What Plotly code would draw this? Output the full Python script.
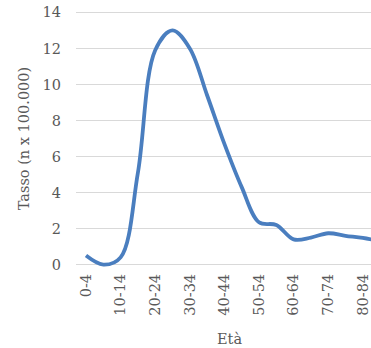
import plotly.graph_objects as go

# Incidence rate per 100,000 by age group
age_groups = ["0-4", "5-9", "10-14", "15-19", "20-24", "25-29", "30-34", "35-39",
              "40-44", "45-49", "50-54", "55-59", "60-64", "65-69", "70-74", "75-79",
              "80-84", "85+"]
rates = [0.5, 0.0, 0.4, 5.1, 11.9, 13.0, 12.0, 9.4, 6.7, 4.3, 2.35, 2.2, 1.4, 1.5,
         1.74, 1.6, 1.48, 1.3]
x_tick_labels = ["0-4", "10-14", "20-24", "30-34", "40-44", "50-54", "60-64", "70-74", "80-84"]
y_ticks = [0, 2, 4, 6, 8, 10, 12, 14]

FONT = "DejaVu Serif"
TEXT = "#595959"
GRID = "#d9d9d9"
LINE = "#4a7ebf"

fig = go.Figure(
    go.Scatter(
        x=age_groups,
        y=rates,
        mode="lines",
        line=dict(color=LINE, width=3.8, shape="spline", smoothing=1.0),
        hoverinfo="skip",
    )
)

fig.update_layout(
    width=371,
    height=348,
    margin=dict(l=76, r=0, t=7, b=78),
    paper_bgcolor="white",
    plot_bgcolor="white",
    showlegend=False,
    font=dict(family=FONT, size=14.5, color=TEXT),
    xaxis=dict(
        type="category",
        range=[-0.578, 16.474],
        tickmode="array",
        tickvals=x_tick_labels,
        ticktext=x_tick_labels,
        tickangle=-90,
        showgrid=False,
        zeroline=False,
        showline=False,
        ticks="",
        tickfont=dict(family=FONT, size=14.5, color=TEXT),
    ),
    yaxis=dict(
        range=[-0.3, 14.3],
        tickmode="array",
        tickvals=y_ticks,
        showgrid=True,
        gridcolor=GRID,
        gridwidth=1.2,
        zeroline=True,
        zerolinecolor=GRID,
        zerolinewidth=1.4,
        showline=False,
        ticks="",
        ticklabelstandoff=14,
        tickfont=dict(family=FONT, size=14.5, color=TEXT),
        title=dict(text="Tasso (n x 100.000)", font=dict(family=FONT, size=14.5, color=TEXT),
                   standoff=9),
    ),
    annotations=[
        dict(
            text="Età",
            xref="paper",
            yref="paper",
            x=0.52,
            y=-0.262,
            xanchor="center",
            yanchor="middle",
            showarrow=False,
            font=dict(family=FONT, size=14.5, color=TEXT),
        )
    ],
)

fig.write_html("out.html")
